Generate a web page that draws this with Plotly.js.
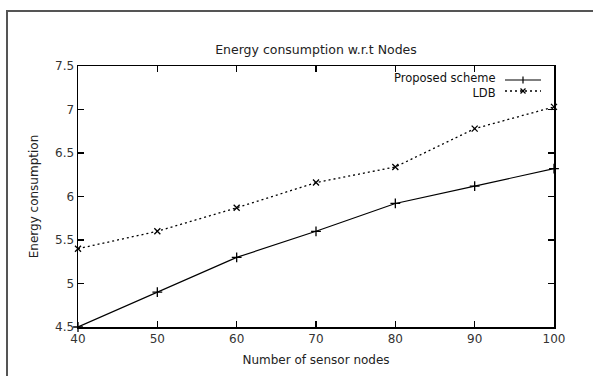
<!DOCTYPE html>
<html>
<head>
<meta charset="utf-8">
<script src="https://cdn.plot.ly/plotly-3.0.1.min.js"></script>
<style>
html,body{margin:0;padding:0;background:#fff;}
#chart{width:593px;height:376px;}
</style>
</head>
<body>
<div id="chart"></div>
<script>
var nodes = [40, 50, 60, 70, 80, 90, 100];
var proposed = [4.5, 4.9, 5.3, 5.6, 5.92, 6.12, 6.32];
var ldb = [5.4, 5.6, 5.87, 6.16, 6.34, 6.78, 7.03];
var seriesNames = ["Proposed scheme", "LDB"];
var xTicks = [40, 50, 60, 70, 80, 90, 100];
var yTicks = [4.5, 5, 5.5, 6, 6.5, 7, 7.5];

var FONT = "DejaVu Sans, Verdana, sans-serif";
var TXT = "#333";
var DOTS = "2px,3px";

var traces = [
  {x: nodes, y: proposed, name: seriesNames[0], mode: "lines+markers",
   line: {color: "#000", width: 1.2},
   marker: {symbol: "cross-thin", size: 7, line: {color: "#000", width: 1.3}},
   cliponaxis: false},
  {x: nodes, y: ldb, name: seriesNames[1], mode: "lines+markers",
   line: {color: "#000", width: 1.3, dash: DOTS},
   marker: {symbol: "x-thin", size: 6, line: {color: "#000", width: 1.3}},
   cliponaxis: false}
];

// plot area in px: l=78, r=554, t=66, b=327
var L = 78, R = 554, T = 66, B = 327;
function px(x){ return (x - L) / (R - L); }
function py(y){ return (B - y) / (B - T); }

var shapes = [
  // outer frame (left and top)
  {type: "line", xref: "paper", yref: "paper", x0: px(7), x1: px(7), y0: py(11), y1: py(380), line: {color: "#555", width: 2}},
  {type: "line", xref: "paper", yref: "paper", x0: px(6), x1: px(596), y0: py(11), y1: py(11), line: {color: "#555", width: 2}},
  // legend samples
  {type: "line", xref: "paper", yref: "paper", x0: px(505), x1: px(541), y0: py(80), y1: py(80), line: {color: "#000", width: 1.2}},
  {type: "line", xref: "paper", yref: "paper", x0: px(523), x1: px(523), y0: py(76.5), y1: py(83.5), line: {color: "#000", width: 1.2}},
  {type: "line", xref: "paper", yref: "paper", x0: px(505), x1: px(541), y0: py(91), y1: py(91), line: {color: "#000", width: 1.3, dash: DOTS}},
  {type: "line", xref: "paper", yref: "paper", x0: px(520.5), x1: px(525.5), y0: py(88.5), y1: py(93.5), line: {color: "#000", width: 1.2}},
  {type: "line", xref: "paper", yref: "paper", x0: px(520.5), x1: px(525.5), y0: py(93.5), y1: py(88.5), line: {color: "#000", width: 1.2}}
];

var annotations = [
  {xref: "paper", yref: "paper", x: px(498), y: py(85.5), xanchor: "right", yanchor: "middle", align: "right",
   text: seriesNames.join("<br>"), showarrow: false, font: {family: FONT, size: 11.5, color: "#111"}}
];

var axisCommon = {
  showgrid: false, zeroline: false, showline: true, linecolor: "#000", linewidth: 1.5,
  mirror: "ticks", ticks: "inside", ticklen: 6, tickwidth: 1.2, tickcolor: "#000",
  tickfont: {family: FONT, size: 12, color: TXT}
};

var layout = {
  width: 593, height: 376,
  margin: {l: L, r: 593 - R, t: T, b: 376 - B, pad: 0},
  paper_bgcolor: "#fff", plot_bgcolor: "#fff",
  showlegend: false,
  title: {text: "Energy consumption w.r.t Nodes", font: {family: FONT, size: 12.5, color: "#222"},
          x: 316 / 593, xanchor: "center", y: 1 - 50 / 376, yanchor: "middle", yref: "container"},
  xaxis: Object.assign({}, axisCommon, {
    range: [40, 100], tickvals: xTicks, ticktext: xTicks.map(String),
    title: {text: "Number of sensor nodes", font: {family: FONT, size: 12, color: "#222"}, standoff: 10}
  }),
  yaxis: Object.assign({}, axisCommon, {
    range: [4.5, 7.5], tickvals: yTicks, ticktext: yTicks.map(String),
    title: {text: "Energy consumption", font: {family: FONT, size: 12, color: "#222"}, standoff: 14}
  }),
  shapes: shapes,
  annotations: annotations
};

Plotly.newPlot("chart", traces, layout, {displayModeBar: false, staticPlot: true});
</script>
</body>
</html>
